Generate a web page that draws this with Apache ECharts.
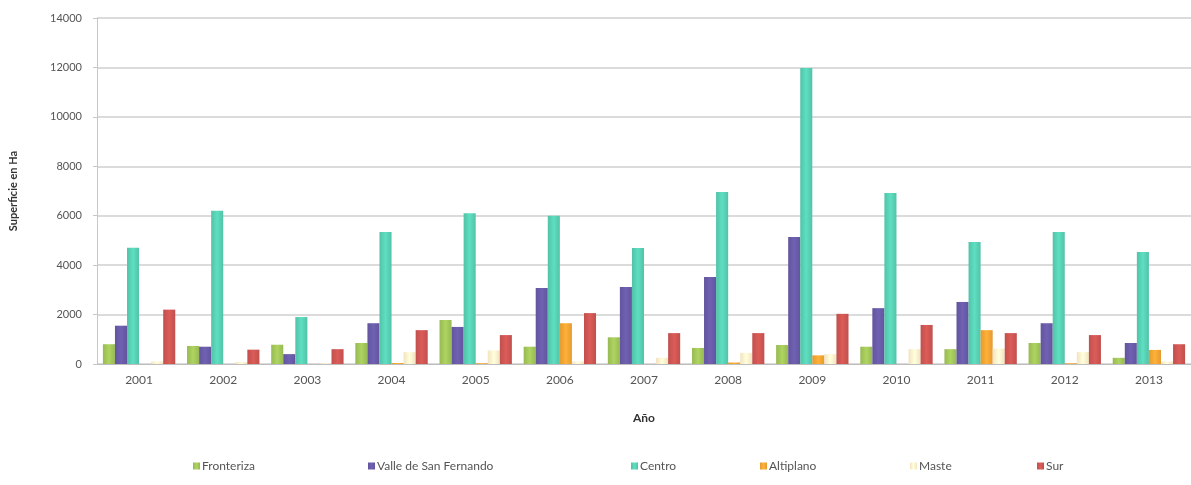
<!DOCTYPE html>
<html lang="es">
<head>
    <meta charset="UTF-8">
    <title>Superficie en Ha</title>
    <script src="https://cdn.jsdelivr.net/npm/echarts@6/dist/echarts.min.js"></script>
</head>
<style type="text/css">
    body{
        margin:0;
        background:#fff;
    }
    .chart{
        width: 1191px;
        height: 485px;
    }
</style>
<body>
    <div class="chart"></div>
<script type="text/javascript">
var years = ['2001', '2002', '2003', '2004', '2005', '2006', '2007', '2008', '2009', '2010', '2011', '2012', '2013'];

var fronteriza = [800, 730, 780, 850, 1780, 700, 1080, 650, 770, 700, 600, 850, 250];
var valleSanFernando = [1550, 700, 400, 1650, 1500, 3080, 3120, 3520, 5140, 2260, 2510, 1650, 850];
var centro = [4700, 6200, 1900, 5340, 6100, 6000, 4690, 6960, 11980, 6920, 4940, 5340, 4530];
var altiplano = [0, 0, 0, 40, 30, 1650, 0, 60, 350, 0, 1370, 30, 570];
var maste = [100, 80, 30, 480, 550, 100, 250, 450, 400, 600, 620, 480, 100];
var sur = [2200, 580, 600, 1370, 1170, 2060, 1250, 1250, 2030, 1580, 1250, 1170, 800];

var names = ['Fronteriza', 'Valle de San Fernando', 'Centro', 'Altiplano', 'Maste', 'Sur'];
var values = [fronteriza, valleSanFernando, centro, altiplano, maste, sur];
var colors = ['#98B954', '#62559C', '#52C2A8', '#E39A30', '#F3E2C0', '#C0504D'];
var legendLeft = [188, 363, 626, 755, 905, 1032];

var font = 'Lato, "Open Sans", sans-serif';

function shade(c) {
    // light edge gradient a bit like the Excel bars
    return new echarts.graphic.LinearGradient(0, 0, 1, 0, [
        { offset: 0, color: c },
        { offset: 0.5, color: echarts.color.lift(c, -0.15) },
        { offset: 1, color: c }
    ]);
}

var option = {
    animation: false,
    color: colors,
    textStyle: { fontFamily: font },
    grid: {
        left: 97,
        right: -12,
        top: 18,
        bottom: 121
    },
    legend: names.map(function(n, i) {
        return {
            data: [n],
            left: legendLeft[i],
            top: 455,
            itemWidth: 7,
            itemHeight: 7,
            itemGap: 4,
            icon: 'rect',
            textStyle: { fontFamily: font, fontSize: 12, color: '#555', padding: [0, 0, 0, -3] }
        };
    }),
    xAxis: {
        type: 'category',
        data: years,
        name: 'Año',
        nameLocation: 'middle',
        nameGap: 48,
        nameTextStyle: { fontFamily: font, fontWeight: 'bold', fontSize: 12, color: '#333' },
        axisLine: { lineStyle: { color: '#bdbdbd' } },
        axisTick: { show: false },
        axisLabel: { color: '#555', fontSize: 12, margin: 10 }
    },
    yAxis: {
        type: 'value',
        min: 0,
        max: 14000,
        interval: 2000,
        name: 'Superficie en Ha',
        nameLocation: 'middle',
        nameGap: 78,
        nameRotate: 90,
        nameTextStyle: { fontFamily: font, fontWeight: 'bold', fontSize: 11, color: '#333' },
        axisLine: { show: true, lineStyle: { color: '#c8c8c8' } },
        axisTick: { show: true, length: 4, lineStyle: { color: '#c8c8c8' } },
        axisLabel: {
            color: '#555',
            fontSize: 11,
            margin: 15,
            formatter: function(v) { return String(v); }
        },
        splitLine: { lineStyle: { color: '#cfcfcf', width: 1.5 } }
    },
    series: names.map(function(n, i) {
        return {
            name: n,
            type: 'bar',
            data: values[i],
            barGap: '0%',
            barCategoryGap: '14%',
            itemStyle: { color: shade(colors[i]) }
        };
    })
};

var myChart = echarts.init(document.querySelector('.chart'));
myChart.setOption(option);
</script>
</body>
</html>
